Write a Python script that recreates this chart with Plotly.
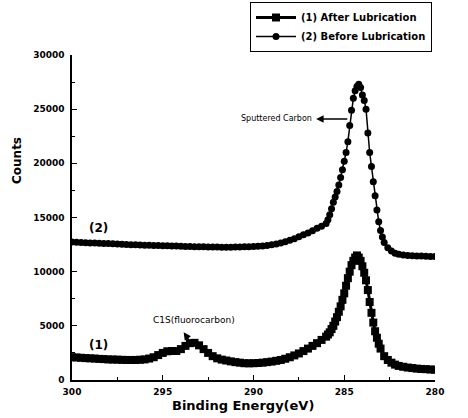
import plotly.graph_objects as go

# ---- Data -------------------------------------------------------------
# (1) After Lubrication (squares)
be_after = [300.00, 299.75, 299.50, 299.25, 299.00, 298.75, 298.50, 298.25, 298.00, 297.75,
            297.50, 297.25, 297.00, 296.75, 296.50, 296.25, 296.00, 295.75, 295.50, 295.25,
            295.00, 294.75, 294.50, 294.25, 294.00, 293.75, 293.50, 293.25, 293.00, 292.75,
            292.50, 292.25, 292.00, 291.75, 291.50, 291.25, 291.00, 290.75, 290.50, 290.25,
            290.00, 289.75, 289.50, 289.25, 289.00, 288.75, 288.50, 288.25, 288.00, 287.75,
            287.50, 287.25, 287.00, 286.75, 286.50, 286.25,
            286.0, 285.9, 285.8, 285.7, 285.6, 285.5, 285.4, 285.3, 285.2, 285.1,
            285.0, 284.9, 284.8, 284.7, 284.6, 284.5, 284.4, 284.3, 284.2, 284.1,
            284.0, 283.9, 283.8, 283.7, 283.6, 283.5, 283.4, 283.3, 283.2, 283.1,
            283.0, 282.8, 282.6, 282.4, 282.2, 282.0, 281.75, 281.5, 281.25, 281.0,
            280.75, 280.5, 280.25, 280.0]
counts_after = [2100, 2080, 2050, 2020, 2000, 1980, 1950, 1930, 1900, 1890,
                1880, 1860, 1850, 1850, 1850, 1870, 1900, 1980, 2100, 2300,
                2500, 2650, 2680, 2680, 2850, 3150, 3400, 3430, 3200, 2850,
                2500, 2200, 2000, 1880, 1800, 1720, 1650, 1600, 1550, 1540,
                1550, 1570, 1600, 1650, 1700, 1770, 1850, 1960, 2100, 2270,
                2450, 2670, 2900, 3150, 3400, 3700,
                4000, 4200, 4400, 4700, 5000, 5400, 5800, 6300, 6800, 7400,
                8000, 8700, 9400, 10000, 10600, 11000, 11300, 11500, 11300, 11000,
                10500, 9900, 9200, 8300, 7200, 6200, 5300, 4500, 3900, 3350,
                2900, 2200, 1850, 1600, 1420, 1300, 1220, 1150, 1100, 1050,
                1020, 1000, 970, 950]

# (2) Before Lubrication (circles)
be_before = [300.00, 299.75, 299.50, 299.25, 299.00, 298.75, 298.50, 298.25, 298.00, 297.75,
             297.50, 297.25, 297.00, 296.75, 296.50, 296.25, 296.00, 295.75, 295.50, 295.25,
             295.00, 294.75, 294.50, 294.25, 294.00, 293.75, 293.50, 293.25, 293.00, 292.75,
             292.50, 292.25, 292.00, 291.75, 291.50, 291.25, 291.00, 290.75, 290.50, 290.25,
             290.00, 289.75, 289.50, 289.25, 289.00, 288.75, 288.50, 288.25, 288.00, 287.75,
             287.50, 287.25, 287.00, 286.75, 286.50, 286.25, 286.00,
             285.9, 285.8, 285.7, 285.6, 285.5, 285.4, 285.3, 285.2, 285.1, 285.0,
             284.9, 284.8, 284.7, 284.6, 284.5, 284.4, 284.3, 284.2, 284.1, 284.0,
             283.9, 283.8, 283.7, 283.6, 283.5, 283.4, 283.3, 283.2, 283.1, 283.0,
             282.9, 282.8, 282.6, 282.4, 282.2, 282.0, 281.75, 281.5, 281.25, 281.0,
             280.75, 280.5, 280.25, 280.0]
counts_before = [12750, 12720, 12700, 12680, 12650, 12640, 12620, 12610, 12590, 12570,
                 12550, 12530, 12500, 12490, 12480, 12460, 12450, 12430, 12420, 12410,
                 12400, 12390, 12380, 12360, 12350, 12330, 12320, 12310, 12300, 12290,
                 12280, 12270, 12270, 12260, 12260, 12265, 12270, 12280, 12290, 12300,
                 12320, 12350, 12380, 12420, 12480, 12560, 12650, 12760, 12900, 13050,
                 13220, 13400, 13580, 13780, 14000, 14200, 14450,
                 14800, 15250, 15800, 16400, 16900, 17400, 18000, 18700, 19400, 20200,
                 21000, 22000, 23500, 24900, 26000, 26700, 27100, 27300, 27000, 26300,
                 25800, 25000, 22800, 21000, 19700, 18300, 17000, 15700, 14600, 13800,
                 13200, 12700, 12200, 11900, 11700, 11600, 11550, 11500, 11470, 11450,
                 11440, 11420, 11410, 11400]

x_ticks = [300, 295, 290, 285, 280]
x_tick_text = ["300", "295", "290", "285", "280"]
y_ticks = [0, 5000, 10000, 15000, 20000, 25000, 30000]
y_tick_text = ["0", "5000", "10000", "15000", "20000", "25000", "30000"]

FONT = "DejaVu Sans"
W, H = 468, 418

fig = go.Figure()
fig.add_trace(go.Scatter(
    x=be_after, y=counts_after, mode="lines+markers",
    name="(1) After Lubrication",
    line=dict(color="black", width=3),
    marker=dict(symbol="square", size=8, color="black"),
))
fig.add_trace(go.Scatter(
    x=be_before, y=counts_before, mode="lines+markers",
    name="(2) Before Lubrication",
    line=dict(color="black", width=1.5),
    marker=dict(symbol="circle", size=7, color="black"),
))

axis_common = dict(
    showline=True, linecolor="black", linewidth=1.5, mirror=False,
    showgrid=False, zeroline=False,
    ticks="inside", ticklen=5, tickwidth=1.2, tickcolor="black",
    tickfont=dict(family=FONT, size=9, color="black", weight="bold"),
)

fig.update_xaxes(
    range=[300, 280], tickvals=x_ticks, ticktext=x_tick_text,
    minor=dict(ticks="inside", ticklen=3, tickwidth=1, tickcolor="black", dtick=2.5),
    ticklabelstandoff=2,
    **axis_common,
)
fig.update_yaxes(
    range=[0, 30000], tickvals=y_ticks, ticktext=y_tick_text,
    minor=dict(ticks="inside", ticklen=3, tickwidth=1, tickcolor="black", dtick=2500),
    ticklabelstandoff=4,
    **axis_common,
)

fig.update_layout(
    width=W, height=H,
    margin=dict(l=72, r=33, t=55, b=38, autoexpand=False),
    paper_bgcolor="white", plot_bgcolor="white",
    showlegend=True,
    legend=dict(
        xref="container", yref="container",
        x=250 / W, y=1 - 2 / H, xanchor="left", yanchor="top",
        bordercolor="black", borderwidth=1, bgcolor="white",
        font=dict(family=FONT, size=10, color="black", weight="bold"),
        tracegroupgap=0, itemwidth=40,
    ),
    annotations=[
        dict(text="(2)", x=298.55, y=14050, xref="x", yref="y", showarrow=False,
             font=dict(family=FONT, size=12, color="black", weight="bold")),
        dict(text="(1)", x=298.55, y=3250, xref="x", yref="y", showarrow=False,
             font=dict(family=FONT, size=12, color="black", weight="bold")),
        dict(text="C1S(fluorocarbon)", x=293.3, y=5550, xref="x", yref="y", showarrow=False,
             font=dict(family=FONT, size=9, color="black")),
        dict(text="", x=293.85, y=4400, xref="x", yref="y", showarrow=True,
             ax=293.5, ay=3550, axref="x", ayref="y",
             arrowhead=2, arrowsize=1, arrowwidth=1.5, arrowcolor="black"),
        dict(text="Sputtered Carbon", x=286.65, y=24100, xref="x", yref="y",
             xanchor="right", showarrow=False,
             font=dict(family=FONT, size=8, color="black")),
        dict(text="", x=286.55, y=24100, xref="x", yref="y", showarrow=True,
             ax=284.75, ay=24100, axref="x", ayref="y",
             arrowhead=2, arrowsize=1, arrowwidth=1.5, arrowcolor="black"),
        dict(text="Counts", x=(17 - 72) / 363, y=(380 - 161) / 325,
             xref="paper", yref="paper",
             xanchor="center", yanchor="middle", showarrow=False, textangle=-90,
             font=dict(family=FONT, size=12, color="black", weight="bold")),
        dict(text="Binding Energy(eV)", x=(243 - 72) / 363, y=(380 - 405) / 325,
             xref="paper", yref="paper",
             xanchor="center", yanchor="middle", showarrow=False,
             font=dict(family=FONT, size=13, color="black", weight="bold")),
    ],
)

fig.write_html("out.html")
